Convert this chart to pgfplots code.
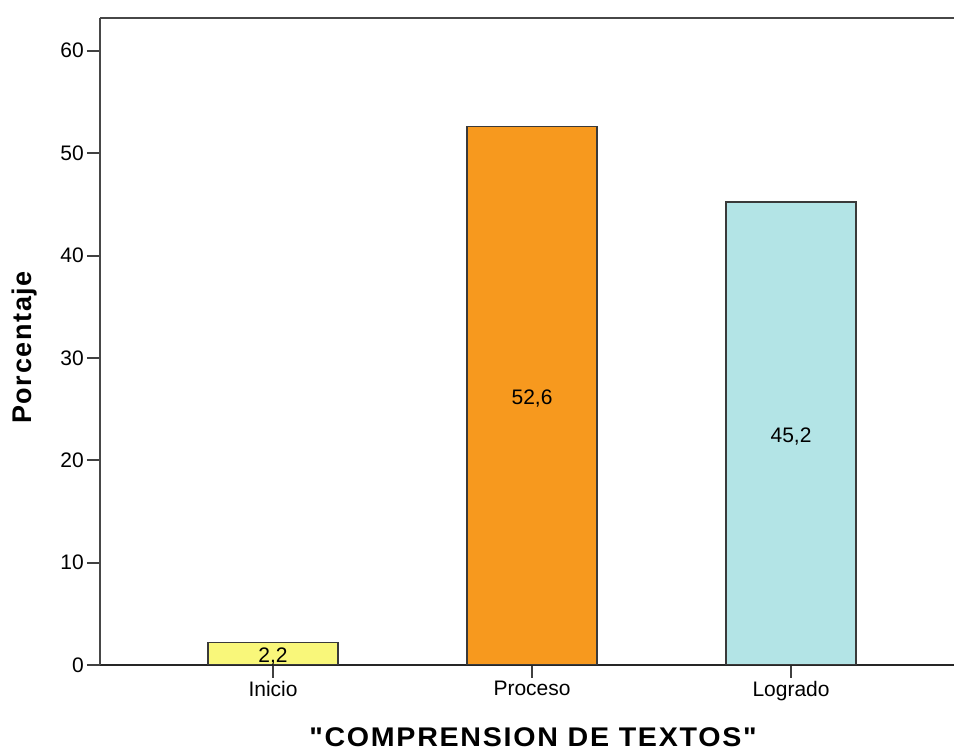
\documentclass[border=0pt]{standalone}
\usepackage{fontspec}
\setmainfont{Liberation Sans}
\newfontfamily\labfam{Liberation Sans}[Ligatures=TeXOff, LetterSpace=6]
\usepackage{pgfplots}
\pgfplotsset{compat=1.18}

\definecolor{cInicio}{HTML}{F9F77A}
\definecolor{cProceso}{HTML}{F7991E}
\definecolor{cLogrado}{HTML}{B3E4E6}
\definecolor{edge}{HTML}{3A3A3A}

\newcommand{\tickfont}{\fontsize{21}{25}\selectfont}
\newcommand{\labfont}{\labfam\fontsize{27}{32}\selectfont\bfseries}

\begin{document}
\begin{tikzpicture}
\begin{axis}[
    scale only axis,
    width=854pt, height=647pt,
    xmin=-0.668, xmax=2.629,
    ymin=0, ymax=63.2,
    axis x line*=bottom,
    axis y line*=left,
    x axis line style={draw=black!85, line width=2pt},
    y axis line style={draw=black!72, line width=2.6pt},
    ybar, bar width=0.502, bar shift=0pt,
    xtick={0,1,2},
    xticklabels={Inicio,Proceso,Logrado},
    ytick={0,10,...,60},
    tick align=outside,
    major tick length=13pt,
    tick style={draw=black!75, line width=2pt},
    ticklabel style={font=\tickfont},
    yticklabel style={inner xsep=3pt},
    /pgf/number format/assume math mode=true,
    xlabel={\scalebox{1.06}[1]{"COMPRENSION DE TEXTOS"}},
    xlabel style={font=\labfont, at={(axis description cs:0.507,-0.112)}, anchor=center},
    ylabel={Porcentaje},
    ylabel style={font=\labfont, at={(axis description cs:-0.0878,0.4907)}, anchor=center},
    visualization depends on=y \as \rawy,
    nodes near coords={\pgfmathprintnumber[use comma,fixed,fixed zerofill,precision=1]{\pgfplotspointmeta}},
    every node near coord/.append style={anchor=center, font=\tickfont, text=black,
        shift={(axis direction cs:0,-\rawy/2)}, yshift=-2.5pt},
    every axis plot/.append style={draw=edge, line width=1.8pt},
]
\addplot[fill=cInicio] coordinates {(0,2.2)};
\addplot[fill=cProceso] coordinates {(1,52.6)};
\addplot[fill=cLogrado] coordinates {(2,45.2)};
\draw[black!72, line width=2.6pt] (rel axis cs:0,1) -- (rel axis cs:1,1);
\coordinate (O) at (rel axis cs:0,0);
\end{axis}
\pgfresetboundingbox
\useasboundingbox (O) ++(-100pt,-87pt) rectangle ++(954pt,752pt);
\end{tikzpicture}
\end{document}
